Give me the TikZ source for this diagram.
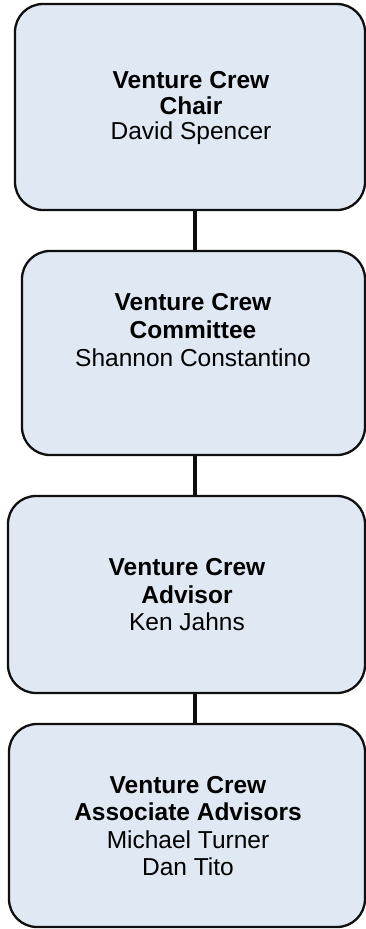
\documentclass[tikz,border=0pt]{standalone}
\usepackage{fontspec}
\setmainfont{Liberation Sans}
\definecolor{boxfill}{RGB}{224,232,243}
\definecolor{boxline}{RGB}{15,15,15}
\begin{document}
\begin{tikzpicture}[x=1pt,y=-1pt,
  orgbox/.style={draw=boxline,line width=2.3pt,fill=boxfill,rounded corners=28pt,inner sep=0pt},
  orglabel/.style={align=center,inner sep=0pt,font=\fontsize{24.5}{27.5}\selectfont,text=black},
  link/.style={draw=black!95,line width=3.8pt}]
\useasboundingbox (0,0) rectangle (366,929);
\coordinate (spine) at (195,0);
\node[orgbox,minimum width=350pt,minimum height=206pt] (b1) at (190,107) {};
\node[orgbox,minimum width=343pt,minimum height=204pt] (b2) at (193.5,353) {};
\node[orgbox,minimum width=357pt,minimum height=197pt] (b3) at (186.5,594.5) {};
\node[orgbox,minimum width=356pt,minimum height=203pt] (b4) at (187,825.5) {};
\node[orglabel,font=\fontsize{24.5}{25.5}\selectfont] (t1) at (191,108) {\textbf{Venture Crew}\\\textbf{Chair}\\David Spencer};
\node[orglabel,font=\fontsize{24.5}{28}\selectfont] (t2) at (193,330) {\textbf{Venture Crew}\\\textbf{Committee}\\Shannon Constantino};
\node[orglabel] (t3) at (187,595) {\textbf{Venture Crew}\\\textbf{Advisor}\\Ken Jahns};
\node[orglabel,font=\fontsize{24.5}{27.3}\selectfont] (t4) at (188,826) {\textbf{Venture Crew}\\\textbf{Associate Advisors}\\Michael Turner\\Dan Tito};
\draw[link] (b1.south -| spine) -- (b2.north -| spine);
\draw[link] (b2.south -| spine) -- (b3.north -| spine);
\draw[link] (b3.south -| spine) -- (b4.north -| spine);
\end{tikzpicture}
\end{document}
